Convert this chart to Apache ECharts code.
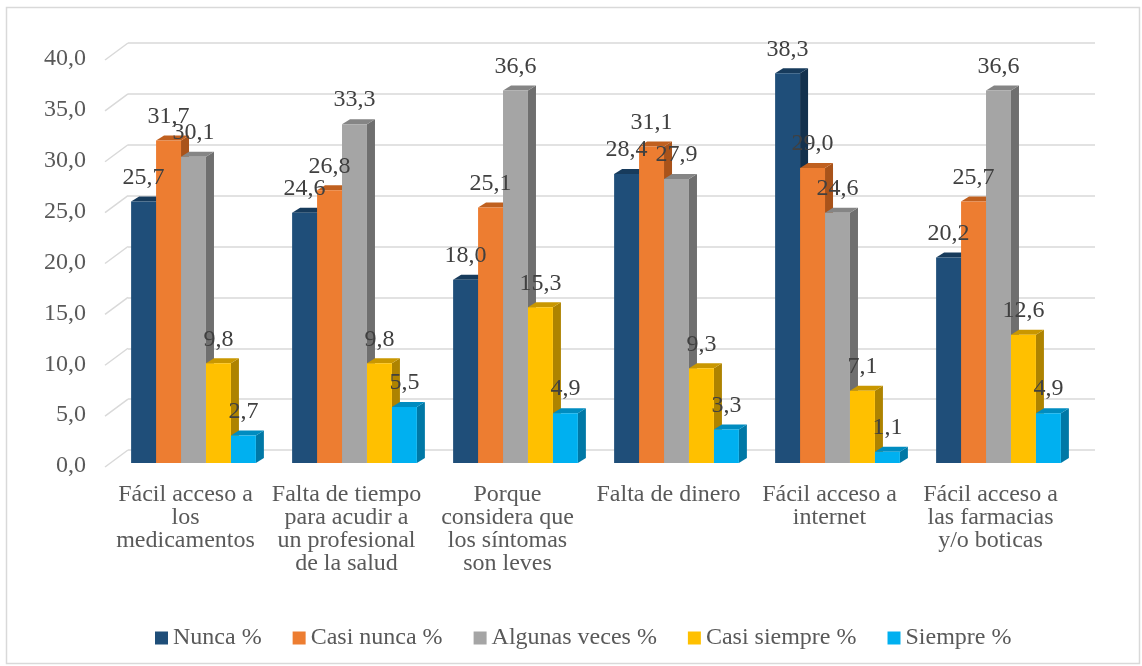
<!DOCTYPE html>
<html>
<head>
<meta charset="utf-8">
<script src="https://cdn.jsdelivr.net/npm/echarts@6/dist/echarts.min.js"></script>
<style>
  html, body { margin: 0; padding: 0; background: #fff; }
  #chart { width: 1142px; height: 666px; }
</style>
</head>
<body>
<div id="chart"></div>
<script>
// categorias (eje X)
var categories = [
  "Fácil acceso a\nlos\nmedicamentos",
  "Falta de tiempo\npara acudir a\nun profesional\nde la salud",
  "Porque\nconsidera que\nlos síntomas\nson leves",
  "Falta de dinero",
  "Fácil acceso a\ninternet",
  "Fácil acceso a\nlas farmacias\ny/o boticas"
];
var seriesNames = ["Nunca %", "Casi nunca %", "Algunas veces %", "Casi siempre %", "Siempre %"];
var nunca = [25.7, 24.6, 18.0, 28.4, 38.3, 20.2];
var casiNunca = [31.7, 26.8, 25.1, 31.1, 29.0, 25.7];
var algunasVeces = [30.1, 33.3, 36.6, 27.9, 24.6, 36.6];
var casiSiempre = [9.8, 9.8, 15.3, 9.3, 7.1, 12.6];
var siempre = [2.7, 5.5, 4.9, 3.3, 1.1, 4.9];
var yTicks = [0, 5, 10, 15, 20, 25, 30, 35, 40];

var allData = [nunca, casiNunca, algunasVeces, casiSiempre, siempre];
// colores: frente, tapa, lateral
var colors = [
  ["#1F4E79", "#173B5C", "#13314D"],
  ["#ED7D31", "#C0601F", "#A9531A"],
  ["#A5A5A5", "#858585", "#6F6F6F"],
  ["#FFC000", "#C99700", "#AE8300"],
  ["#00B0F0", "#008CC0", "#0078A6"]
];

var font = "Liberation Serif";
var fSize = 24;
var txtColor = "#595959";
var depthX = 8, depthY = 5;     // profundidad 3D de cada barra
var barShiftX = 8, barShiftY = -3;

function fmt(v) {
  return v.toFixed(1).replace(".", ",");
}

function makeBarSeries(s) {
  return {
    name: seriesNames[s],
    type: "custom",
    xAxisIndex: 0,
    yAxisIndex: 0,
    itemStyle: { color: colors[s][0] },
    data: allData[s].map(function (v, i) { return [i, v]; }),
    renderItem: function (params, api) {
      var i = api.value(0), v = api.value(1);
      var band = api.size([1, 0])[0];
      var bw = band * 0.155;
      var top = api.coord([i, v]);
      var bot = api.coord([i, 0]);
      var x0 = top[0] + barShiftX - 2.5 * bw + s * bw;
      var x1 = x0 + bw;
      var yT = top[1] + barShiftY;
      var yB = bot[1] + barShiftY;
      var c = colors[s];
      return {
        type: "group",
        children: [
          {
            type: "polygon",
            shape: { points: [[x1, yT], [x1 + depthX, yT - depthY], [x1 + depthX, yB - depthY], [x1, yB]] },
            style: { fill: c[2] }
          },
          {
            type: "polygon",
            shape: { points: [[x0, yT], [x0 + depthX, yT - depthY], [x1 + depthX, yT - depthY], [x1, yT]] },
            style: { fill: c[1] }
          },
          {
            type: "rect",
            shape: { x: x0, y: yT, width: bw, height: yB - yT },
            style: { fill: c[0] }
          },
          {
            type: "text",
            z2: 100,
            style: {
              text: fmt(v),
              x: (x0 + x1) / 2,
              y: yT - depthY - 7,
              align: "center",
              verticalAlign: "bottom",
              fill: "#404040",
              fontSize: fSize,
              fontFamily: font
            }
          }
        ]
      };
    }
  };
}

var series = [];
for (var s = 0; s < allData.length; s++) series.push(makeBarSeries(s));

// lineas diagonales del piso/pared izquierda
series.push({
  type: "custom",
  xAxisIndex: 0,
  yAxisIndex: 0,
  silent: true,
  z: 0,
  data: yTicks.map(function (t) { return [0, t]; }),
  renderItem: function (params, api) {
    var p = api.coord([0, api.value(1)]);
    var x = params.coordSys.x;
    return {
      type: "line",
      shape: { x1: x, y1: p[1] + 1, x2: x + 23, y2: p[1] - 16 },
      style: { stroke: "#D9D9D9", lineWidth: 1.5 }
    };
  }
});

var chart = echarts.init(document.getElementById("chart"));
chart.setOption({
  animation: false,
  backgroundColor: "#fff",
  textStyle: { fontFamily: font },
  graphic: [{
    type: "rect",
    left: 4, top: 5,
    shape: { width: 1133, height: 656 },
    style: { fill: "none", stroke: "#D9D9D9", lineWidth: 1.5 }
  }],
  legend: {
    data: seriesNames,
    top: 621,
    left: 150,
    icon: "rect",
    itemWidth: 13,
    itemHeight: 13,
    itemGap: 31,
    textStyle: { fontSize: fSize, color: txtColor, fontFamily: font }
  },
  grid: [
    { left: 105, right: 71, top: 59, bottom: 200 },
    { left: 128, right: 47, top: 43, bottom: 216 }
  ],
  xAxis: [
    {
      type: "category",
      gridIndex: 0,
      data: categories,
      axisLine: { show: false },
      axisTick: { show: false },
      axisLabel: {
        interval: 0,
        margin: 17,
        fontSize: fSize,
        lineHeight: 23,
        color: txtColor,
        fontFamily: font
      }
    },
    { type: "category", gridIndex: 1, data: categories, show: false }
  ],
  yAxis: [
    {
      type: "value",
      gridIndex: 0,
      min: 0,
      max: 40,
      interval: 5,
      axisLine: { show: false },
      axisTick: { show: false },
      splitLine: { show: false },
      axisLabel: {
        margin: 19,
        fontSize: fSize,
        color: txtColor,
        fontFamily: font,
        formatter: function (v) { return fmt(v); }
      }
    },
    {
      type: "value",
      gridIndex: 1,
      min: 0,
      max: 40,
      interval: 5,
      axisLine: { show: false },
      axisTick: { show: false },
      axisLabel: { show: false },
      splitLine: { lineStyle: { color: "#D9D9D9", width: 1.5 } }
    }
  ],
  series: series
});
</script>
</body>
</html>
